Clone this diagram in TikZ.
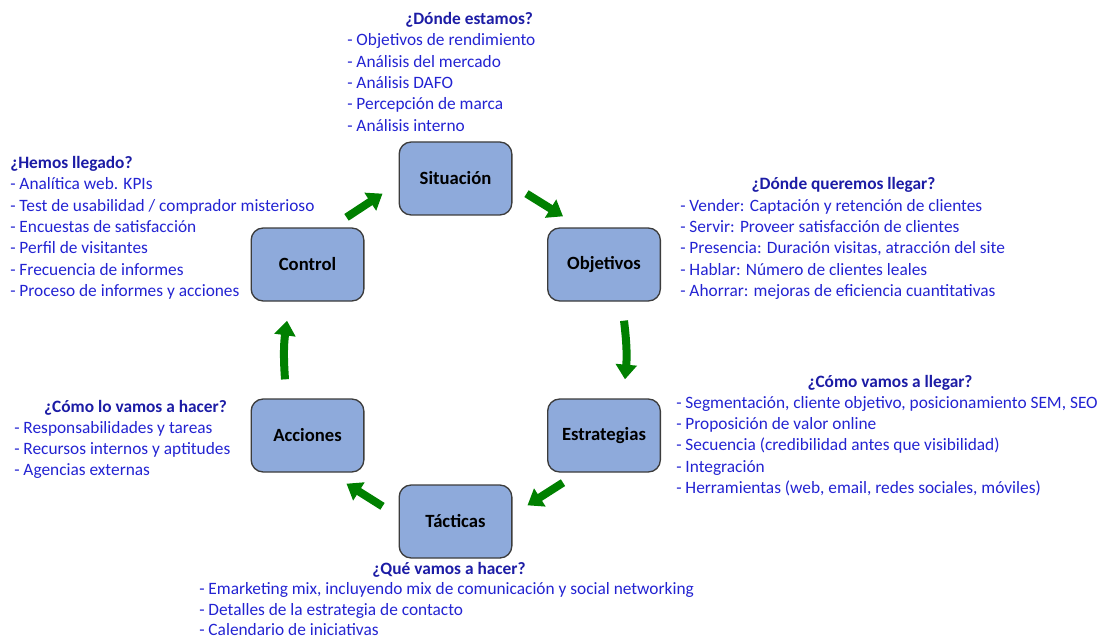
\documentclass[tikz,border=0pt]{standalone}
\usepackage{fontspec}
\setmainfont{Carlito}
\usetikzlibrary{arrows.meta,calc}
\definecolor{boxfill}{RGB}{142,170,219}
\definecolor{boxdraw}{RGB}{60,60,60}
\definecolor{headblue}{RGB}{28,28,165}
\definecolor{itemblue}{RGB}{35,35,210}
\definecolor{arrgreen}{RGB}{0,128,0}
\tikzset{
  stage/.style={draw=boxdraw, line width=1pt, fill=boxfill, rounded corners=9pt,
    minimum width=84.5pt, minimum height=54.75pt, inner sep=0pt,
    font=\fontsize{14}{16}\selectfont\bfseries, text=black},
  head/.style={font=\fontsize{13}{16}\selectfont\bfseries, text=headblue, inner sep=0pt},
  item/.style={font=\fontsize{13}{16}\selectfont, text=itemblue, inner sep=0pt, anchor=base west},
  flow/.style={draw=arrgreen, line width=6pt, -{Triangle[length=11pt,width=15.5pt]}}
}
\begin{document}
\begin{tikzpicture}[x=0.75pt,y=-0.75pt]
\useasboundingbox (0,0) rectangle (1103,638);

% stage boxes
\node[stage] (sit) at (455.5,178.5) {Situación};
\node[stage] (obj) at (604,264.5) {Objetivos};
\node[stage] (est) at (604,435.5) {Estrategias};
\node[stage] (tac) at (455.5,521.5) {Tácticas};
\node[stage] (acc) at (307.5,435.5) {Acciones};
\node[stage] (ctrl) at (307.5,264.5) {Control};

% arrows
\draw[flow] ($(ctrl.north east)+(-18,-10)$) -- ($(sit.south west)+(-16,-22)$);
\draw[flow] ($(sit.south east)+(14,-22)$) -- ($(obj.north west)+(16,-11)$);
\draw[flow] ($(obj.south)+(20,19)$) to[bend left=6] ($(est.north)+(21,-19)$);
\draw[flow] ($(est.south west)+(16,10)$) -- ($(tac.north east)+(15,21)$);
\draw[flow] ($(tac.north west)+(-16,22)$) -- ($(acc.south east)+(-18,11)$);
\draw[flow] ($(acc.north)+(-22.5,-19)$) to[bend left=6] ($(ctrl.south)+(-20.5,19)$);

% Situación text
\node[head, anchor=base west] (hsit) at (405,25) {¿Dónde estamos?};
\foreach \t [count=\i] in {Objetivos de rendimiento, Análisis del mercado, Análisis DAFO, Percepción de marca, Análisis interno}
  \node[item] (sit\i) at (347,{46+21.3*(\i-1)}) {- \t};

% Control text
\node[head, anchor=base west] (hctrl) at (10,168.5) {¿Hemos llegado?};
\foreach \t [count=\i] in {Analítica web. KPIs, Test de usabilidad / comprador misterioso, Encuestas de satisfacción, Perfil de visitantes, Frecuencia de informes, Proceso de informes y acciones}
  \node[item] (ctrl\i) at (10,{168.5+21.3*\i}) {- \t};

% Objetivos text
\node[head, anchor=base] (hobj) at (843.5,190) {¿Dónde queremos llegar?};
\foreach \t [count=\i] in {Vender: Captación y retención de clientes, Servir: Proveer satisfacción de clientes, {Presencia: Duración visitas, atracción del site}, Hablar: Número de clientes leales, Ahorrar: mejoras de eficiencia cuantitativas}
  \node[item] (obj\i) at (680,{190+21.3*\i}) {- \t};

% Estrategias text
\node[head, anchor=base] (hest) at (890,387) {¿Cómo vamos a llegar?};
\foreach \t [count=\i] in {{Segmentación, cliente objetivo, posicionamiento SEM, SEO}, Proposición de valor online, Secuencia (credibilidad antes que visibilidad), Integración, {Herramientas (web, email, redes sociales, móviles)}}
  \node[item] (est\i) at (676,{387+21.3*\i}) {- \t};

% Acciones text
\node[head, anchor=base] (hacc) at (135.5,412) {¿Cómo lo vamos a hacer?};
\foreach \t [count=\i] in {Responsabilidades y tareas, Recursos internos y aptitudes, Agencias externas}
  \node[item] (acc\i) at (14,{412+21.3*\i}) {- \t};

% Tácticas text
\node[head, anchor=base] (htac) at (449,574) {¿Qué vamos a hacer?};
\foreach \t [count=\i] in {{Emarketing mix, incluyendo mix de comunicación y social networking}, Detalles de la estrategia de contacto, Calendario de iniciativas}
  \node[item] (tac\i) at (199,{574+20.5*\i}) {- \t};
\end{tikzpicture}
\end{document}
